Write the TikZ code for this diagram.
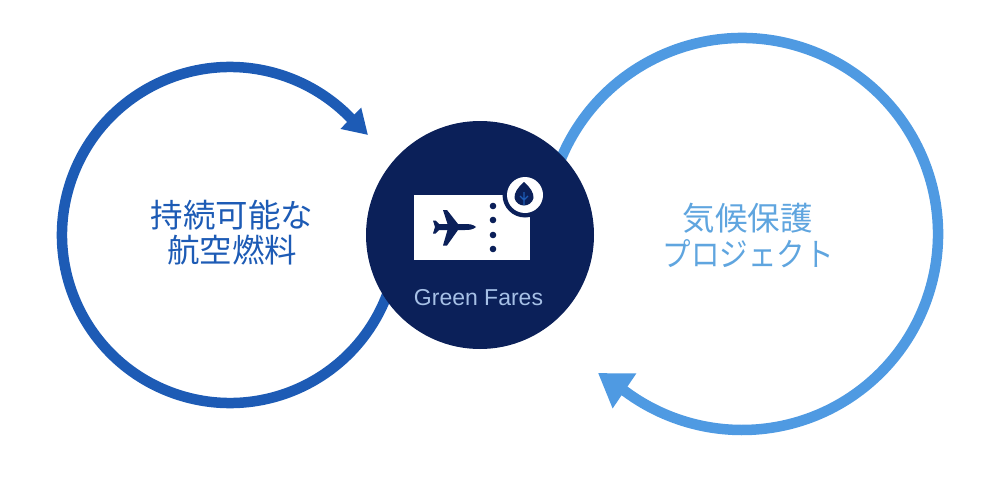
\documentclass[tikz,border=0pt]{standalone}
\usepackage{fontspec}
\usetikzlibrary{arrows.meta,calc}
\setmainfont{Liberation Sans}
\newfontfamily\jpfont{Noto Sans CJK JP}
\definecolor{navy}{HTML}{0B2059}
\definecolor{dblue}{HTML}{1D5BB5}
\definecolor{lblue}{HTML}{4F9AE2}
\definecolor{ltext}{HTML}{5FA5DF}
\definecolor{capt}{HTML}{A6C0E6}
\tikzset{
  ringL/.style={draw=dblue,line width=10.5pt,line join=round,-{Triangle[length=24pt,width=28pt,fill=dblue]}},
  ringR/.style={draw=lblue,line width=10.5pt,line join=round,-{Triangle[length=32pt,width=40pt,fill=lblue]}},
  hubnode/.style={circle,fill=navy,minimum size=228pt,inner sep=0pt},
  jplabel/.style={font=\jpfont\fontsize{32.5}{32.5}\selectfont,inner sep=0pt},
  dot/.style={circle,fill=navy,minimum size=6.6pt,inner sep=0pt}
}
\begin{document}
\begin{tikzpicture}[x=1pt,y=-1pt]
\useasboundingbox (0,0) rectangle (1005,479);
\coordinate (cL) at (230,235);
\coordinate (cR) at (742,234);
\coordinate (tipL) at (368,135);
\coordinate (tipR) at (598,373);
\draw[ringL] ($(cL)+(-18:168pt)$) arc[start angle=-18,end angle=-315.7,radius=168pt] -- (tipL);
\draw[ringR] ($(cR)+(160:196pt)$) arc[start angle=160,end angle=-126.4,radius=196pt] -- (tipR);
\node[hubnode] (hub) at (480,235) {};
\fill[white] (414,195) rectangle (530,260);
\node[circle,fill=navy,minimum size=45pt,inner sep=0pt] (badgeo) at (525,195) {};
\node[circle,fill=white,minimum size=36pt,inner sep=0pt] (badge) at (525,195) {};
\fill[navy] (524,182) .. controls (530,187) and (534,193) .. (533.5,198) .. controls (532.5,203) and (528,205.5) .. (524,205.5) .. controls (520,205.5) and (515.5,203) .. (514.5,198) .. controls (514,193) and (518,187) .. (524,182) -- cycle;
\draw[dblue,line width=1.2pt] (524,192) -- (524,205) (520,196) -- (524,200) -- (528,196);
\node[dot] (d1) at (493,206) {};
\node[dot] (d2) at (493,220) {};
\node[dot] (d3) at (493,235) {};
\node[dot] (d4) at (493,249) {};
\fill[navy] (476,227) .. controls (473,224.5) and (470,224) .. (465,224) -- (458,224) -- (447,210) -- (443,210) -- (447.5,224) -- (439,224) -- (435.5,220.5) -- (433,220.5) -- (435,227) -- (433,233.5) -- (435.5,233.5) -- (439,230) -- (447.5,230) -- (443,245.5) -- (447,245.5) -- (458,230) -- (465,230) .. controls (470,230) and (473,229.5) .. (476,227) -- cycle;
\node[font=\fontsize{23}{27}\selectfont,text=capt,inner sep=0pt] (cap) at (478.5,298) {Green Fares};
\node[jplabel,text=dblue] (lab1a) at (232,215) {持続可能な};
\node[jplabel,text=dblue] (lab1b) at (232,250) {航空燃料};
\node[jplabel,text=ltext] (lab2a) at (747.5,218) {気候保護};
\node[jplabel,text=ltext,xscale=0.877] (lab2b) at (748,254) {プロジェクト};
\end{tikzpicture}
\end{document}
